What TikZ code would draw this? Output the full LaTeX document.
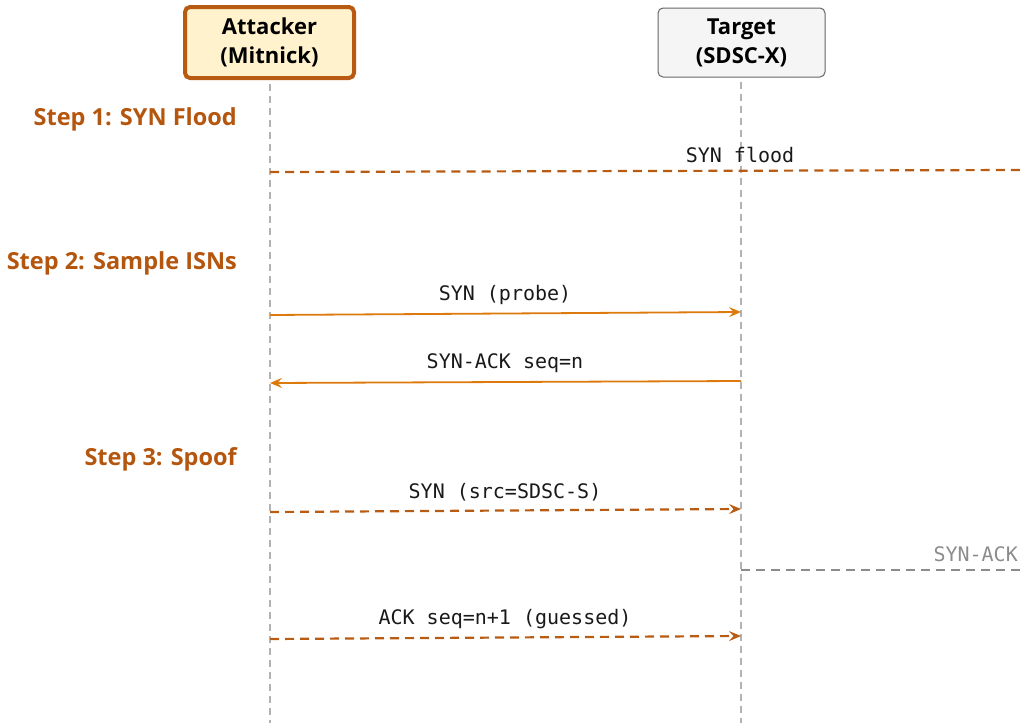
\documentclass[tikz,border=0pt]{standalone}
\usepackage{fontspec}
\setmainfont{Open Sans}
\newfontfamily\monofont{DejaVu Sans Mono}
\usetikzlibrary{arrows.meta}
\definecolor{attfill}{HTML}{FFF2CC}
\definecolor{attedge}{HTML}{B85A12}
\definecolor{tgtfill}{HTML}{F5F5F5}
\definecolor{tgtedge}{HTML}{666666}
\definecolor{steptxt}{HTML}{B5560F}
\definecolor{probe}{HTML}{DD7A0E}
\definecolor{spoof}{HTML}{B85C13}
\definecolor{lifegray}{HTML}{B3B3B3}
\definecolor{ghost}{HTML}{8C8C8C}
\tikzset{
  actor/.style={rounded corners=5pt, minimum width=#1, align=center,
    font=\fontsize{22}{29}\selectfont\bfseries, inner sep=0pt},
  lifeline/.style={draw=lifegray, line width=1.2pt, dash pattern=on 7pt off 5pt},
  steplabel/.style={anchor=east, text=steptxt, font=\fontsize{23.5}{26}\selectfont\bfseries, inner sep=0pt},
  msglabel/.style={font=\monofont\fontsize{20}{22}\selectfont, inner sep=0pt, text=black!90},
  tip/.style={-{Stealth[length=12pt,width=10pt,inset=4.5pt]}},
  realmsg/.style={draw=probe, line width=1.8pt, tip},
  spoofmsg/.style={draw=spoof, line width=2.2pt, dash pattern=on 9pt off 6pt},
  ghostmsg/.style={draw=ghost, line width=1.7pt, dash pattern=on 9pt off 6pt},
}
\begin{document}
\begin{tikzpicture}[x=1pt,y=-1pt]
\useasboundingbox (0,0) rectangle (1020,723);

% participants
\node[actor=169pt, minimum height=71pt, draw=attedge, line width=4pt, fill=attfill]
  (att) at (269.5,42.5) {Attacker\\(Mitnick)};
\node[actor=167pt, minimum height=69pt, draw=tgtedge, line width=1pt, fill=tgtfill]
  (tgt) at (741.5,42.5) {Target\\(SDSC-X)};

% lifelines
\coordinate (attEnd) at (270,723);
\coordinate (tgtEnd) at (741,723);
\draw[lifeline] (att.south -| attEnd) ++(0,4) -- (attEnd);
\draw[lifeline] (tgt.south -| tgtEnd) ++(0,4) -- (tgtEnd);

% phase headings
\node[steplabel] (s1) at (237,119) {Step 1: SYN Flood};
\node[steplabel] (s2) at (237,263) {Step 2: Sample ISNs};
\node[steplabel] (s3) at (237,459) {Step 3: Spoof};

% anchor points on the lifelines
\coordinate (a1) at (270,172);  \coordinate (r1) at (1020,170);
\coordinate (a2) at (270,315);  \coordinate (t2) at (741,312);
\coordinate (t3) at (741,381);  \coordinate (a3) at (270,383);
\coordinate (a4) at (270,512);  \coordinate (t4) at (741,509);
\coordinate (t5) at (741,570);  \coordinate (r5) at (1020,570);
\coordinate (a6) at (270,639);  \coordinate (t6) at (741,636);

% messages (the flood runs off the right edge, so its dashes reach it)
\draw[spoofmsg, dash pattern=on 9pt off 6.12pt] (a1) -- (r1);
\node[msglabel] (l1) at (740,155) {SYN flood};

\draw[realmsg] (a2) -- (t2);
\node[msglabel] (l2) at (505,295) {SYN (probe)};

\draw[realmsg] (t3) -- (a3);
\node[msglabel] (l3) at (505,363) {SYN-ACK seq=n};

\draw[spoofmsg, tip] (a4) -- (t4);
\node[msglabel] (l4) at (505,492) {SYN (src=SDSC-S)};

\draw[ghostmsg] (t5) -- (r5);
\node[msglabel, anchor=east, text=ghost] (l5) at (1018,554) {SYN-ACK};

\draw[spoofmsg, tip] (a6) -- (t6);
\node[msglabel] (l6) at (505,619) {ACK seq=n+1 (guessed)};
\end{tikzpicture}
\end{document}
